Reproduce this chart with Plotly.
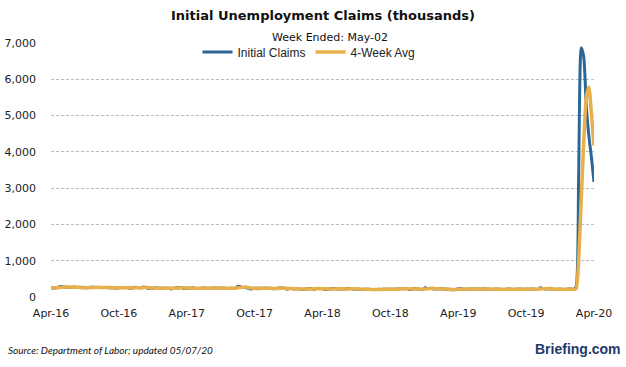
import pandas as pd
import plotly.graph_objects as go

# Weekly claims (thousands), week ending Saturday, 2016-04-09 .. 2020-05-02
claims_2016 = [253, 248, 257, 274, 294, 278, 268, 267, 264, 277, 259, 268, 254, 253, 252,
               266, 269, 266, 262, 261, 263, 259, 260, 252, 254, 249, 246, 260, 258, 265,
               254, 235, 251, 268, 258, 254, 275, 265, 235]
claims_2017 = [247, 234, 259, 246, 238, 240, 244, 244, 223, 243, 258, 261, 258, 234, 243,
               244, 257, 238, 235, 233, 245, 247, 242, 241, 248, 244, 247, 240, 245, 242,
               234, 237, 244, 236, 298, 282, 261, 259, 243, 222, 233, 239, 241, 243, 240,
               249, 239, 237, 225, 236, 245, 250]
claims_2018 = [250, 216, 230, 231, 221, 230, 222, 210, 213, 227, 231, 226, 215, 242, 233,
               232, 209, 211, 223, 234, 233, 222, 221, 218, 218, 232, 231, 215, 220, 214,
               208, 210, 212, 213, 205, 206, 208, 213, 210, 215, 216, 215, 217, 213, 221,
               226, 234, 224, 233, 206, 216, 231]
claims_2019 = [221, 216, 199, 253, 234, 239, 225, 218, 225, 221, 229, 212, 211, 202, 197,
               211, 230, 230, 212, 211, 216, 222, 218, 220, 222, 217, 227, 212, 211, 209,
               216, 220, 217, 209, 210, 216, 227, 205, 212, 217, 219, 214, 211, 220, 214,
               221, 215, 207, 252, 234, 222, 224]
claims_2020 = [222, 214, 207, 220, 214, 205, 211, 219, 219, 211, 282, 3307, 6867, 6615,
               5237, 4442, 3846, 3169]

avg_2016 = [265, 256, 256, 258, 268, 276, 279, 277, 269, 269, 267, 267, 265, 259, 257,
            256, 260, 265, 266, 265, 263, 262, 261, 259, 256, 254, 250, 252, 253, 258,
            259, 253, 251, 252, 253, 252, 257, 263, 257]
avg_2017 = [256, 245, 244, 247, 245, 245, 242, 241, 238, 238, 242, 246, 254, 253, 249,
            245, 246, 246, 243, 241, 238, 240, 242, 244, 245, 245, 245, 245, 244, 244,
            240, 238, 239, 238, 254, 265, 269, 275, 261, 246, 240, 235, 234, 239, 241,
            243, 243, 242, 237, 237, 237, 239]
avg_2018 = [244, 240, 236, 232, 224, 228, 226, 221, 219, 218, 223, 224, 225, 228, 229,
            230, 229, 222, 219, 220, 223, 228, 227, 222, 220, 222, 225, 224, 224, 222,
            217, 212, 211, 211, 210, 209, 208, 210, 209, 211, 213, 214, 216, 215, 217,
            219, 224, 226, 229, 224, 222, 221]
avg_2019 = [219, 218, 214, 222, 225, 231, 238, 229, 227, 222, 223, 222, 218, 212, 206,
            205, 210, 217, 221, 221, 217, 215, 217, 219, 219, 219, 221, 219, 218, 215,
            212, 214, 216, 216, 213, 213, 218, 215, 213, 215, 218, 213, 215, 216, 217,
            217, 218, 214, 224, 227, 229, 233]
avg_2020 = [233, 223, 217, 216, 214, 212, 213, 212, 213, 215, 225, 1005, 2667, 4268,
            5507, 5790, 5035, 4174]

tick_labels = ["Apr-16", "Oct-16", "Apr-17", "Oct-17", "Apr-18",
               "Oct-18", "Apr-19", "Oct-19", "Apr-20"]
y_ticks = [0, 1000, 2000, 3000, 4000, 5000, 6000, 7000]

claims = claims_2016 + claims_2017 + claims_2018 + claims_2019 + claims_2020
avg4 = avg_2016 + avg_2017 + avg_2018 + avg_2019 + avg_2020
weeks = pd.date_range("2016-04-09", periods=len(claims), freq="W-SAT")

first, last = weeks[0], weeks[-1]
n = len(tick_labels) - 1
tick_vals = [first + (last - first) * k / n for k in range(n + 1)]

BLUE = "#2C6795"
GOLD = "#E8B04B"
GRID = "#BDBDBD"

PL, PR, PT, PB = 51, 594, 43, 297  # plot area in page pixels
W = PR - PL
H = PB - PT


def px(x):
    return (x - PL) / W


def py(y):
    return (PB - y) / H


fig = go.Figure()
fig.add_trace(go.Scatter(x=weeks, y=claims, mode="lines", name="Initial Claims",
                         line=dict(color=BLUE, width=3, shape="spline", smoothing=0.6)))
fig.add_trace(go.Scatter(x=weeks, y=avg4, mode="lines", name="4-Week Avg",
                         line=dict(color=GOLD, width=3.5, shape="spline", smoothing=0.6)))

fig.update_layout(
    width=626, height=367,
    margin=dict(l=PL, r=626 - PR, t=PT, b=367 - PB, autoexpand=False),
    paper_bgcolor="white", plot_bgcolor="white",
    font=dict(family="DejaVu Sans", size=11, color="#222222"),
    showlegend=True,
    legend=dict(orientation="h", x=px(309), xanchor="center", y=py(52), yanchor="middle",
                bgcolor="rgba(0,0,0,0)", font=dict(family="Liberation Sans", size=12, color="#222222"),
                itemwidth=30, traceorder="normal"),
    xaxis=dict(range=[first, last], tickmode="array", tickvals=tick_vals, ticktext=tick_labels,
               showgrid=False, showline=False, zeroline=False, ticks="", automargin=False,
               ticklabelstandoff=8, tickfont=dict(size=11)),
    yaxis=dict(range=[0, 7000], tickmode="array", tickvals=y_ticks, tickformat=",",
               showgrid=True, gridcolor=GRID, griddash="3px,2px", gridwidth=1, automargin=False,
               showline=False, zeroline=False, ticks="", ticklabelstandoff=14,
               tickfont=dict(size=11)),
    annotations=[
        dict(text="<b>Initial Unemployment Claims (thousands)</b>", xref="paper", yref="paper",
             x=px(323), y=py(16), xanchor="center", yanchor="middle",
             showarrow=False, font=dict(family="DejaVu Sans", size=13, color="#111111")),
        dict(text="Week Ended: May-02", xref="paper", yref="paper",
             x=px(330), y=py(37), xanchor="center", yanchor="middle",
             showarrow=False, font=dict(family="DejaVu Sans", size=11, color="#111111")),
        dict(text="<i>Source: Department of Labor; updated 05/07/20</i>", xref="paper", yref="paper",
             x=px(6), y=py(350), xanchor="left", yanchor="middle",
             showarrow=False, font=dict(family="Liberation Sans Narrow, Lato", size=10, color="#111111")),
        dict(text="<b>Briefing.com</b>", xref="paper", yref="paper",
             x=px(623), y=py(349), xanchor="right", yanchor="middle",
             showarrow=False, font=dict(family="Liberation Sans", size=14, color="#22396B")),
    ],
)

fig.write_html("out.html", config={"displayModeBar": False},
               post_script="document.body.style.margin='0';document.body.style.overflow='hidden';")
